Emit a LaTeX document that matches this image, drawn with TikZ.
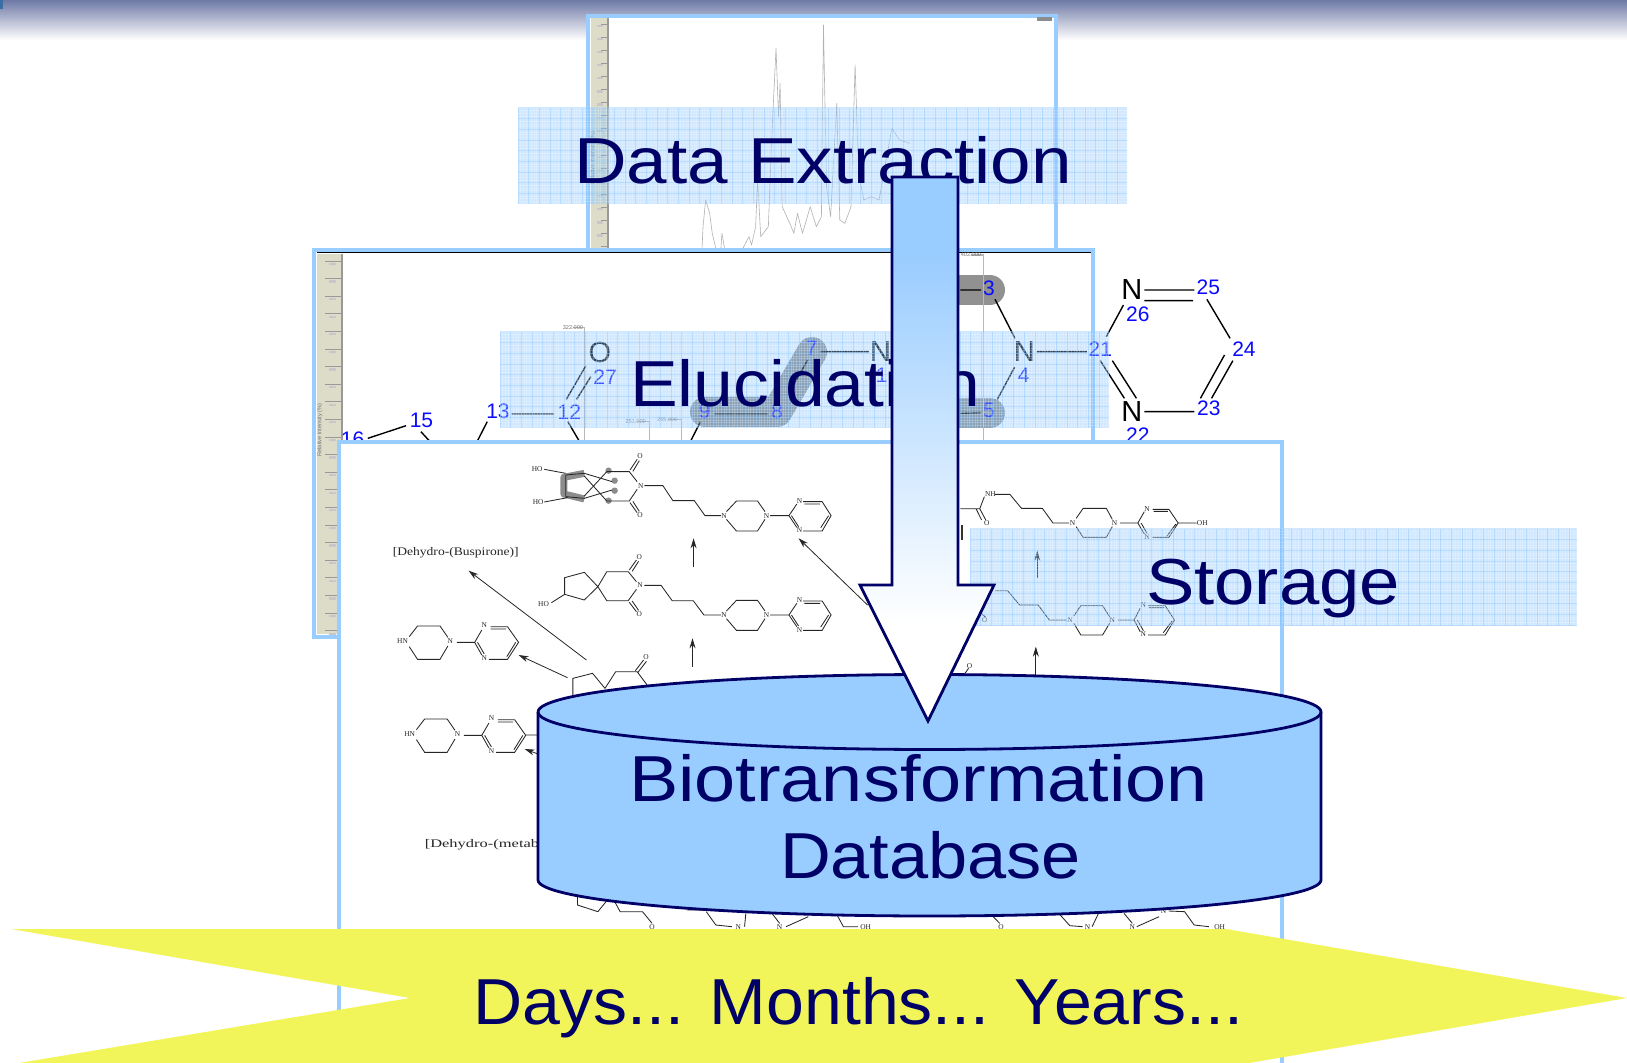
\documentclass[tikz,border=0pt]{standalone}
\usepackage{fontspec}
\usetikzlibrary{arrows.meta}
\setmainfont{Liberation Sans}
\newfontfamily\molfont{Liberation Serif}
\definecolor{navytxt}{HTML}{000066}
\definecolor{framec}{HTML}{99CCFF}
\definecolor{rulerc}{HTML}{DCDCC8}
\definecolor{bandc}{HTML}{7ABFFF}
\definecolor{yellowc}{HTML}{F2F55A}
\definecolor{atomblue}{HTML}{0A0AFF}
\definecolor{topband}{HTML}{6E79A6}
\definecolor{cornerc}{HTML}{3A6EA5}
\pgfdeclareverticalshading{arrowfade}{100bp}{color(0bp)=(white); color(34bp)=(white); color(68bp)=(framec); color(100bp)=(framec)}
\newcounter{nn}
% small text placed by centre
\newcommand\atm[4][molatom]{\stepcounter{nn}\node[#1] (n\arabic{nn}) at (#2,#3) {#4};}
% big text: left end, baseline, width
\newcommand\bigt[4]{\node[bigtxt] (#1) at (#2,#3) {\resizebox{#4}{\height}{\fontsize{32.5}{36}\selectfont\strut\csname bt@#1\endcsname}};}
\makeatletter
\@namedef{bt@tdata}{Data Extraction}
\@namedef{bt@telu}{Elucidation}
\@namedef{bt@tsto}{Storage}
\@namedef{bt@tbio}{Biotransformation}
\@namedef{bt@tdb}{Database}
\@namedef{bt@tdays}{Days... Months... Years...}
\makeatother
\newcommand\band[5]{%
  \begin{scope}
    \clip (#1,#2) rectangle (#3,#4);
    \fill[bandc,opacity=.36] (#1,#2) rectangle (#3,#4);
    \foreach \k in {0,...,#5}{
      \draw[white,opacity=.22,line width=.5pt] (#1+\k*2.67,#2)--(#1+\k*2.67,#4);
    }
    \foreach \k in {0,...,37}{
      \draw[white,opacity=.22,line width=.5pt] (#1,#2+\k*2.67)--(#3,#2+\k*2.67);
    }
    \foreach \k in {0,...,60}{
      \draw[bandc,opacity=.35,line width=.5pt] (#1+\k*10.7,#2)--(#1+\k*10.7,#4);
    }
    \foreach \k in {0,...,9}{
      \draw[bandc,opacity=.35,line width=.5pt] (#1,#2+\k*10.7)--(#3,#2+\k*10.7);
    }
  \end{scope}}
% tail of the molecules: N-piperazine-pyrimidine, crop-3 coordinates
\newcommand\molTail{%
  \draw[mol] (1110,245)--(1138,213)--(1197,213)--(1218,245)
             (1110,268)--(1138,303)--(1197,303)--(1218,268)
             (1232,257)--(1285,257)--(1307,222)
             (1285,257)--(1307,292) (1292,257)--(1312,290)
             (1325,215)--(1378,215) (1328,222)--(1372,222)
             (1378,215)--(1403,257)--(1378,303)--(1325,303)
             (1396,257)--(1374,293);
  \atm{1103}{257}{N}\atm{1222}{257}{N}\atm{1315}{212}{N}\atm{1315}{301}{N}}
\newcommand\molPip{%
  \draw[mol] (222,620)--(245,588)--(308,588)--(330,622)
             (222,650)--(245,688)--(308,688)--(330,648)
             (355,637)--(405,637)--(425,600)
             (405,637)--(425,675) (413,637)--(432,672)
             (450,590)--(497,590) (450,597)--(493,597)
             (497,590)--(528,637)--(497,688)--(445,688)
             (520,637)--(495,680);
  \atm{203}{634}{HN}\atm{337}{634}{N}\atm{432}{585}{N}\atm{432}{685}{N}}
\tikzset{
  pxgrid/.style={x=.5pt,y=-.5pt},
  cropA/.style={shift={(300,0)},x=.2551pt,y=-.16667pt},
  cropB/.style={shift={(900,240)},x=.2318pt,y=-.16667pt},
  cropC/.style={shift={(330,430)},x=.17857pt,y=-.16667pt},
  cropD/.style={shift={(330,750)},x=.31888pt,y=-.16667pt},
  framebox/.style={fill=white,draw=framec,line width=2.2pt},
  bigtxt/.style={anchor=base west,inner sep=0pt,outer sep=0pt,text=navytxt},
  blueno/.style={inner sep=0pt,text=atomblue,font=\fontsize{10.5}{11}\selectfont},
  atomN/.style={inner sep=0pt,text=black,font=\fontsize{14.5}{15}\selectfont},
  molatom/.style={inner sep=0pt,text=black!85,font=\molfont\fontsize{3.7}{4}\selectfont},
  peak/.style={draw=black!30,line width=.3pt,line join=round},
  axisline/.style={draw=black!28,line width=.5pt},
  peaklabel/.style={inner sep=0pt,text=black!55,font=\fontsize{2.8}{3}\selectfont},
  bond/.style={draw=black,line width=.7pt},
  pill/.style={draw=black!43,line width=15pt,line cap=round,line join=round},
  mol/.style={draw=black!85,line width=.42pt},
  rxn/.style={draw=black!85,line width=.4pt,-{Stealth[length=5pt,width=3pt]}},
  rulertick/.style={draw=black!40,line width=.35pt},
  rulermark/.style={draw=black!22,line width=1.1pt},
}
\begin{document}
\begin{tikzpicture}[pxgrid]
\useasboundingbox (0,0) rectangle (1627,1063);
\clip (0,0) rectangle (1627,1063);
\fill[white] (0,0) rectangle (1627,1063);
% top band
\foreach \k in {0,...,40}{
  \pgfmathtruncatemacro{\p}{100-\k*2.5}
  \fill[topband!\p!white] (0,\k) rectangle (1627,\k+1.2);
}
\fill[cornerc] (0,0) rectangle (3,9);

% ---- window 1
\path[framebox] (588,16) rectangle (1056,270);
\fill[rulerc] (591,18) rectangle (608,270);
\draw[draw=black!40,line width=.7pt] (608,18)--(608,270);
\foreach \k in {0,...,18}{
  \draw[rulertick] (601,24+\k*13.1)--(608,24+\k*13.1);
  \draw[rulermark] (597,26+\k*13.1)--(603,26+\k*13.1);
}
\fill[black!45] (1037,17) rectangle (1052,21);
\node[peaklabel,rotate=90] (ylabA) at (593,158) {Relative Intensity (\%)};
\begin{scope}[cropA]
\draw[peak] (788,745)--(790,680)--(795,600)--(803,640)--(808,700)--(815,745);
\draw[peak] (825,745)--(827,700)--(832,745);
\draw[peak] (868,745)--(880,710)--(885,735)--(893,680)--(897,540)--(903,710)--(918,680)--(925,400)--(933,145)--(938,350)--(941,250)--(945,620)--(960,670)--(968,700)--(975,640)--(985,700)--(1000,620)--(1012,680)--(1022,650)--(1026,75)--(1032,560)--(1040,650)--(1052,310)--(1058,660)--(1068,670)--(1080,620)--(1088,195)--(1095,520)--(1105,600)--(1120,590)--(1135,600)--(1160,385)--(1175,420)--(1195,430);
\end{scope}
\band{518}{108}{1127}{204}{228}
\bigt{tdata}{574}{184}{249pt}

% ---- window 2
\path[framebox] (314,250) rectangle (1093,637);
\draw[black,line width=.6pt] (317,252.5)--(1091,252.5);
\fill[rulerc] (317,254) rectangle (342,634);
\draw[draw=black!40,line width=.9pt] (342,254)--(342,634);
\foreach \k in {0,...,21}{
  \draw[rulertick] (325,261+\k*17.6)--(342,261+\k*17.6);
  \draw[rulermark] (329,264+\k*17.6)--(336,264+\k*17.6);
}
\node[peaklabel,rotate=90] (ylabB) at (320,430) {Relative Intensity (\%)};
% gray highlights
\draw[pill] (705,412)--(777,412)--(812,352);
\draw[pill] (930,290)--(990,290);
\draw[pill] (930,413)--(990,413);
\begin{scope}[cropA]
\draw[axisline] (535,983)--(558,983)--(558,1325);
\draw[axisline] (660,1265)--(685,1265)--(685,1325);
\draw[axisline] (722,1258)--(747,1258)--(747,1325);
\draw[axisline,line width=.8pt] (1315,765)--(1340,765)--(1340,1325);
\atm[peaklabel]{535}{983}{322.000}
\atm[peaklabel]{658}{1265}{251.000}
\atm[peaklabel]{720}{1258}{265.000}
\atm[peaklabel]{1315}{765}{402.000}
\draw[bond] (1020,1055)--(1115,1055) (995,1080)--(958,1180)
            (812,1242)--(918,1242) (785,1265)--(765,1325)
            (415,1242)--(498,1242) (560,1098)--(522,1198) (570,1130)--(542,1198)
            (525,1265)--(548,1325) (367,1265)--(347,1325)
            (208,1277)--(133,1315) (237,1295)--(255,1325);
\atm[atomN]{1138}{1055}{N}
\atm[blueno]{1140}{1127}{1}
\atm[blueno]{1003}{1046}{7}
\atm[blueno]{935}{1235}{8}
\atm[blueno]{793}{1235}{9}
\atm[atomN]{588}{1058}{O}
\atm[blueno]{598}{1130}{27}
\atm[blueno]{528}{1235}{12}
\atm[blueno]{388}{1235}{13}
\atm[blueno]{238}{1262}{15}
\atm[blueno]{103}{1318}{16}
\end{scope}
\begin{scope}[cropB]
\draw[bond] (130,150)--(175,150) (205,178)--(248,295) (247,382)--(210,478)
            (295,335)--(403,335) (445,290)--(482,195)
            (527,150)--(635,150) (527,182)--(632,182)
            (662,178)--(712,295) (700,345)--(648,475) (718,362)--(672,475)
            (527,515)--(635,515) (432,362)--(484,475) (458,362)--(510,475)
            (130,520)--(175,518);
\atm[blueno]{192}{146}{3}
\atm[atomN]{268}{335}{N}
\atm[blueno]{267}{405}{4}
\atm[blueno]{192}{510}{5}
\atm[blueno]{432}{328}{21}
\atm[atomN]{500}{150}{N}
\atm[blueno]{513}{222}{26}
\atm[blueno]{665}{143}{25}
\atm[blueno]{742}{328}{24}
\atm[blueno]{666}{505}{23}
\atm[atomN]{500}{515}{N}
\atm[blueno]{513}{585}{22}
\end{scope}
\band{500}{332}{1109}{428}{228}
\bigt{telu}{630}{407}{175pt}

% ---- window 3
\path[framebox] (339,442) rectangle (1282,1075);
\begin{scope}[cropC]
% gray highlights on the top molecule
\draw[draw=black!45,line width=3.5pt,line join=round] (712,130)--(655,142)--(655,192)--(712,207);
\fill[black!45] (780,122) circle[radius=1.6pt] (797,152) circle[radius=1.6pt] (797,182) circle[radius=1.6pt] (780,212) circle[radius=1.6pt];
% top molecule
\draw[mol] (600,118)--(660,130) (600,216)--(665,203)
  (660,135)--(712,130)--(790,155) (660,200)--(712,205)--(790,180)
  (660,135)--(660,200)
  (712,138)--(775,213) (712,198)--(775,125)
  (775,125)--(838,125)--(860,155) (775,213)--(838,213)--(860,178)
  (840,120)--(860,88) (848,124)--(866,92) (840,218)--(860,248) (848,214)--(866,244);
\atm{580}{118}{HO}\atm{583}{216}{HO}\atm{868}{78}{O}\atm{868}{255}{O}\atm{870}{167}{N}
\draw[mol] (880,167)--(932,167)--(960,212)--(1020,212)--(1050,257)--(1095,257);
\molTail
% middle molecule
\draw[mol] (620,518)--(657,493)--(657,443)--(712,427)--(750,470)--(712,510)--(657,493)
  (750,470)--(775,425)--(835,425)--(858,455) (750,470)--(775,512)--(835,512)--(858,478)
  (838,420)--(858,390) (846,424)--(864,394) (838,517)--(858,545) (846,513)--(864,541)
  (880,466)--(927,466)--(958,512)--(1017,512)--(1047,555)--(1095,555);
\atm{598}{521}{HO}\atm{866}{381}{O}\atm{866}{553}{O}\atm{868}{466}{N}
\begin{scope}[shift={(0,298)}]\molTail\end{scope}
\atm[molatom,font=\molfont\fontsize{5.8}{6}\selectfont]{352}{367}{\scalebox{1.17}[1]{[Dehydro-(Buspirone)]}}
\molPip
\begin{scope}[shift={(20,279)}]\molPip\end{scope}
% partly hidden parent
\draw[mol] (680,800)--(680,745)--(735,730)--(770,775)--(800,725)--(860,725)--(888,765)
  (855,722)--(878,690) (863,726)--(886,694) (548,915)--(585,915);
\atm{885}{680}{O}
% reaction arrows
\draw[rxn] (718,690)--(388,422);
\draw[rxn] (665,743)--(528,675);
\draw[rxn] (1018,412)--(1018,325);
\draw[rxn] (1015,710)--(1015,625);
\draw[rxn] (1505,525)--(1312,325);
\draw[rxn] (590,975)--(545,957);
\end{scope}
\begin{scope}[cropB]
\draw[mol] (130,806)--(172,806)--(185,840) (164,806)--(176,840) (172,806)--(182,770)
  (205,763)--(237,763)--(262,805)--(307,805)--(330,849)--(365,849)
  (380,835)--(395,805)--(445,805)--(458,838) (380,860)--(395,892)--(445,892)--(458,860)
  (475,849)--(513,849)--(527,815) (513,849)--(527,882) (520,849)--(533,880)
  (545,808)--(580,808) (547,814)--(578,814) (580,808)--(600,849)--(580,892)--(545,892)
  (595,852)--(576,888) (600,849)--(640,849);
\draw[black!80,line width=.7pt] (134,855)--(134,900);
\atm{195}{763}{NH}\atm{187}{849}{O}\atm{372}{849}{N}\atm{463}{849}{N}\atm{533}{806}{N}\atm{533}{890}{N}\atm{652}{849}{OH}
\draw[mol] (205,1052)--(232,1052)--(258,1095)--(298,1095)--(322,1140)--(360,1140)
  (375,1128)--(390,1097)--(437,1097)--(452,1130) (375,1150)--(390,1185)--(437,1185)--(452,1150)
  (470,1140)--(505,1140)--(518,1105) (505,1140)--(518,1175) (512,1140)--(525,1172)
  (535,1097)--(572,1097) (537,1103)--(570,1103) (572,1097)--(592,1140)--(572,1185)--(535,1185)
  (587,1143)--(568,1178) (175,1120)--(185,1132);
\atm{183}{1140}{O}\atm{367}{1140}{N}\atm{458}{1140}{N}\atm{525}{1095}{N}\atm{525}{1183}{N}
\atm{150}{1278}{O}
\draw[mol] (140,1300)--(148,1285);
\draw[rxn] (296,1015)--(296,932);
\draw[rxn] (293,1305)--(293,1220);
\end{scope}
\begin{scope}[cropD]
\draw[mol] (388,440)--(388,465)--(420,485)--(435,450) (445,450)--(455,485)--(490,485)--(505,520)
  (560,480)--(590,480) (590,485)--(605,525)--(630,530) (650,530)--(652,490)
  (693,490)--(705,520) (715,530)--(750,500) (795,495)--(805,530)--(828,530)
  (1040,500)--(1050,520) (1145,495)--(1160,527)--(1180,530) (1195,530)--(1205,490)
  (1245,490)--(1258,520) (1265,530)--(1300,500) (1315,483)--(1340,485)--(1355,525)--(1378,530);
\atm{505}{530}{O}\atm{640}{530}{N}\atm{705}{530}{N}\atm{840}{530}{OH}
\atm{1052}{530}{O}\atm{1188}{530}{N}\atm{1258}{530}{N}\atm{1307}{483}{N}\atm{1395}{530}{OH}
\atm[molatom,anchor=west,font=\molfont\fontsize{5.8}{6}\selectfont]{148}{283}{\scalebox{1.42}[1]{[Dehydro-(metab}}
\end{scope}
\band{970}{529}{1577}{626}{228}
\bigt{tsto}{1146}{604}{127pt}

% ---- database cylinder
\path[fill=framec,draw=navytxt,line width=1.4pt,line join=round]
  (538,712)--(538,880) arc[start angle=180,end angle=360,x radius=195.75pt,y radius=18pt]
  --(1321,712) arc[start angle=0,end angle=180,x radius=195.75pt,y radius=18.75pt];
\path[draw=navytxt,line width=1.4pt]
  (538,712) arc[start angle=180,end angle=360,x radius=195.75pt,y radius=18.75pt];
\bigt{tbio}{629}{801}{289.5pt}
\bigt{tdb}{780}{878}{150.5pt}

% ---- flow arrow
\path[draw=navytxt,line width=1.4pt,line join=miter,shading=arrowfade]
  (892,177)--(958,177)--(958,585)--(994,585)--(928,721)--(860,585)--(892,585)--cycle;

% ---- time arrow
\fill[yellowc] (11,929)--(1226,929)--(1627,998)--(1226,1067)--(-5,1067)--(410,998)--cycle;
\bigt{tdays}{473}{1024}{385pt}
\end{tikzpicture}
\end{document}
